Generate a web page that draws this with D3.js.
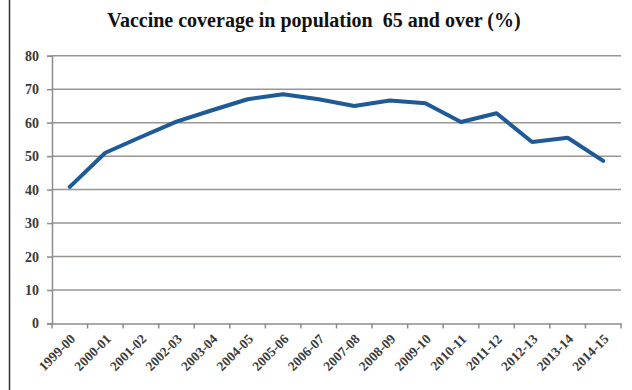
<!DOCTYPE html>
<html><head><meta charset="utf-8">
<script src="https://cdn.jsdelivr.net/npm/d3@7"></script>
<style>body{margin:0;background:#fff}svg{display:block}</style>
</head><body>
<svg id="c" width="632" height="390"></svg>
<script>
const categories = ["1999-00","2000-01","2001-02","2002-03","2003-04","2004-05","2005-06","2006-07","2007-08","2008-09","2009-10","2010-11","2011-12","2012-13","2013-14","2014-15"];
const coverage = [40.8, 51, 55.7, 60.3, 63.7, 67, 68.5, 67, 65, 66.6, 65.8, 60.2, 62.8, 54.2, 55.5, 48.6];
const yTicks = [0,10,20,30,40,50,60,70,80];
const title = "Vaccine coverage in population  65 and over (%)";

const svg = d3.select("#c");
const m = {left:52, right:621, top:55.7, bottom:323.5};

// frame line on left
svg.append("line").attr("x1",9.5).attr("x2",9.5).attr("y1",0).attr("y2",390)
  .attr("stroke","#333").attr("stroke-width",1.5);

const x = d3.scaleBand().domain(categories).range([m.left, m.right]).padding(0);
const y = d3.scaleLinear().domain([0,80]).range([m.bottom, m.top]);

// gridlines
svg.append("g").selectAll("line").data(yTicks.filter(d=>d>0)).join("line")
  .attr("x1",m.left).attr("x2",m.right)
  .attr("y1",d=>y(d)).attr("y2",d=>y(d))
  .attr("stroke","#9a9590").attr("stroke-width",1.5);

// y axis
const yAxis = svg.append("g").attr("transform",`translate(${m.left},0)`)
  .call(d3.axisLeft(y).tickValues(yTicks).tickSize(5).tickPadding(8));
yAxis.select(".domain").attr("stroke","#8c8c8c").attr("stroke-width",1.5);
yAxis.selectAll(".tick line").attr("stroke","#8c8c8c").attr("stroke-width",1.5);
yAxis.selectAll("text").attr("font-family","Liberation Serif").attr("font-weight","bold")
  .attr("font-size",14).attr("fill","#3a3a3a");

// x axis
const xAxis = svg.append("g").attr("transform",`translate(0,${m.bottom})`)
  .call(d3.axisBottom(x).tickSize(0).tickFormat(""));
xAxis.select(".domain").attr("stroke","#8c8c8c").attr("stroke-width",1.5);
// category boundary ticks
const bounds = categories.map(c=>x(c)).concat([x(categories[categories.length-1])+x.bandwidth()]);
svg.append("g").selectAll("line").data(bounds).join("line")
  .attr("x1",d=>d).attr("x2",d=>d).attr("y1",m.bottom).attr("y2",m.bottom+5)
  .attr("stroke","#8c8c8c").attr("stroke-width",1.5);
// rotated labels
svg.append("g").selectAll("text").data(categories).join("text")
  .attr("transform",d=>`translate(${x(d)+x.bandwidth()/2+3},${m.bottom+13}) rotate(-45)`)
  .attr("text-anchor","end").attr("dy","0.35em")
  .attr("font-family","Liberation Serif").attr("font-weight","bold")
  .attr("font-size",13.5).attr("fill","#3a3a3a")
  .text(d=>d);

// line
const line = d3.line().x((d,i)=>x(categories[i])+x.bandwidth()/2).y(d=>y(d));
svg.append("path").datum(coverage).attr("d",line)
  .attr("fill","none").attr("stroke","#1d5a97").attr("stroke-width",4)
  .attr("stroke-linejoin","round").attr("stroke-linecap","round");

// title
svg.append("text").attr("x",314).attr("y",27).attr("text-anchor","middle")
  .attr("font-family","Liberation Serif").attr("font-weight","bold")
  .attr("font-size",20).attr("fill","#111")
  .attr("xml:space","preserve").style("white-space","pre")
  .text(title);
</script>
</body></html>
